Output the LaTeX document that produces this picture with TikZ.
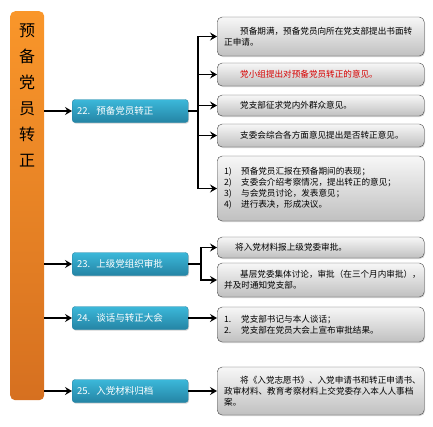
\documentclass[tikz,border=0pt]{standalone}
\usepackage{fontspec}
\setmainfont{Noto Sans CJK SC}
\usetikzlibrary{arrows.meta,positioning,shadows}
\definecolor{barTop}{RGB}{249,150,42}
\definecolor{barBot}{RGB}{214,112,32}
\definecolor{stageTop}{RGB}{60,184,218}
\definecolor{stageBot}{RGB}{36,132,164}
\definecolor{noteTop}{RGB}{247,247,247}
\definecolor{noteBot}{RGB}{192,192,192}
\definecolor{noteLine}{RGB}{70,70,70}
\definecolor{noteRed}{RGB}{215,0,0}
\tikzstyle{bar} = [rounded corners=5pt, top color=barTop, bottom color=barBot,
    minimum width=34pt, minimum height=389pt, inner sep=0pt]
\tikzstyle{bartext} = [font=\fontsize{16}{26}\selectfont, align=center, inner sep=0pt]
\tikzstyle{stage} = [draw=stageBot, rounded corners=3pt, top color=stageTop,
    bottom color=stageBot, text width=106pt, inner xsep=5pt, minimum height=23pt,
    align=left, text=white, font=\fontsize{9.5}{11}\selectfont,
    drop shadow={shadow xshift=0.8pt, shadow yshift=-1.2pt, opacity=0.35}]
\tikzstyle{note} = [draw=noteLine, rounded corners=5pt, top color=noteTop,
    bottom color=noteBot, text width=193pt, inner xsep=7pt, inner ysep=2pt,
    align=left, font=\fontsize{8.6}{11}\selectfont,
    drop shadow={shadow xshift=0.8pt, shadow yshift=-1pt, opacity=0.3}]
\tikzstyle{link} = [->, line width=1.5pt]
\newcommand{\ind}{\hspace*{16pt}}
\newcommand{\itm}[1]{\makebox[17pt][l]{#1}}

\begin{document}
\begin{tikzpicture}[x=1pt, y=-1pt, >={Stealth[length=7pt, width=8pt, inset=2.5pt]}]
    \useasboundingbox (0,0) rectangle (433,426);

    % the orange bar on the left and its title
    \node [bar, anchor=north west] (bar) at (10,11) {};
    \node [bartext] (title) at (27,95) {预\\备\\党\\员\\转\\正};

    % the four stages
    \node [stage, anchor=west] (s22) at (72,111) {22.\hspace{6pt}预备党员转正};
    \node [stage, anchor=west] (s23) at (72,264) {23.\hspace{6pt}上级党组织审批};
    \node [stage, anchor=west] (s24) at (72,318) {24.\hspace{6pt}谈话与转正大会};
    \node [stage, anchor=west] (s25) at (72,391) {25.\hspace{6pt}入党材料归档};

    % notes for stage 22
    \node [note, anchor=west, minimum height=39pt] (n1) at (217,36.5)
        {\ind 预备期满，预备党员向所在党支部提出书面转\\正申请。};
    \node [note, anchor=west, minimum height=23pt, text=noteRed] (n2) at (217,74.5)
        {\ind 党小组提出对预备党员转正的意见。};
    \node [note, anchor=west, minimum height=21pt] (n3) at (217,105.5)
        {\ind 党支部征求党内外群众意见。};
    \node [note, anchor=west, minimum height=23pt] (n4) at (217,135.5)
        {\ind 支委会综合各方面意见提出是否转正意见。};
    \node [note, anchor=west, minimum height=65pt] (n5) at (217,188.5)
        {\itm{1)}预备党员汇报在预备期间的表现；\\
         \itm{2)}支委会介绍考察情况，提出转正的意见；\\
         \itm{3)}与会党员讨论，发表意见；\\
         \itm{4)}进行表决，形成决议。};

    % notes for stages 23 to 25
    \node [note, anchor=west, minimum height=21pt] (n6) at (217,247.5)
        {\hspace*{11pt}将入党材料报上级党委审批。};
    \node [note, anchor=west, minimum height=34pt] (n7) at (217,280)
        {\ind 基层党委集体讨论，审批（在三个月内审批），\\并及时通知党支部。};
    \node [note, anchor=west, minimum height=35pt] (n8) at (217,324.5)
        {\itm{1.}党支部书记与本人谈话；\\
         \itm{2.}党支部在党员大会上宣布审批结果。};
    \node [note, anchor=west, minimum height=48pt] (n9) at (217,391)
        {\ind 将《入党志愿书》、入党申请书和转正申请书、\\政审材料、教育考察材料上交党委存入本人人事档\\案。};

    % bar to stages
    \draw [link] (bar.east |- s22) -- (s22);
    \draw [link] (bar.east |- s23) -- (s23);
    \draw [link] (bar.east |- s24) -- (s24);
    \draw [link] (bar.east |- s25) -- (s25);

    % stages to notes
    \coordinate (bus22) at (198,111);
    \coordinate (bus23) at (201,264);
    \draw [line width=1.5pt] (s22) -- (bus22);
    \foreach \n in {n1,n2,n3,n4,n5}
        \draw [link] (bus22) |- (\n);
    \draw [line width=1.5pt] (s23) -- (bus23);
    \foreach \n in {n6,n7}
        \draw [link] (bus23) |- (\n);
    \draw [link] (s24) -- (s24 -| n8.west);
    \draw [link] (s25) -- (n9);

\end{tikzpicture}
\end{document}
